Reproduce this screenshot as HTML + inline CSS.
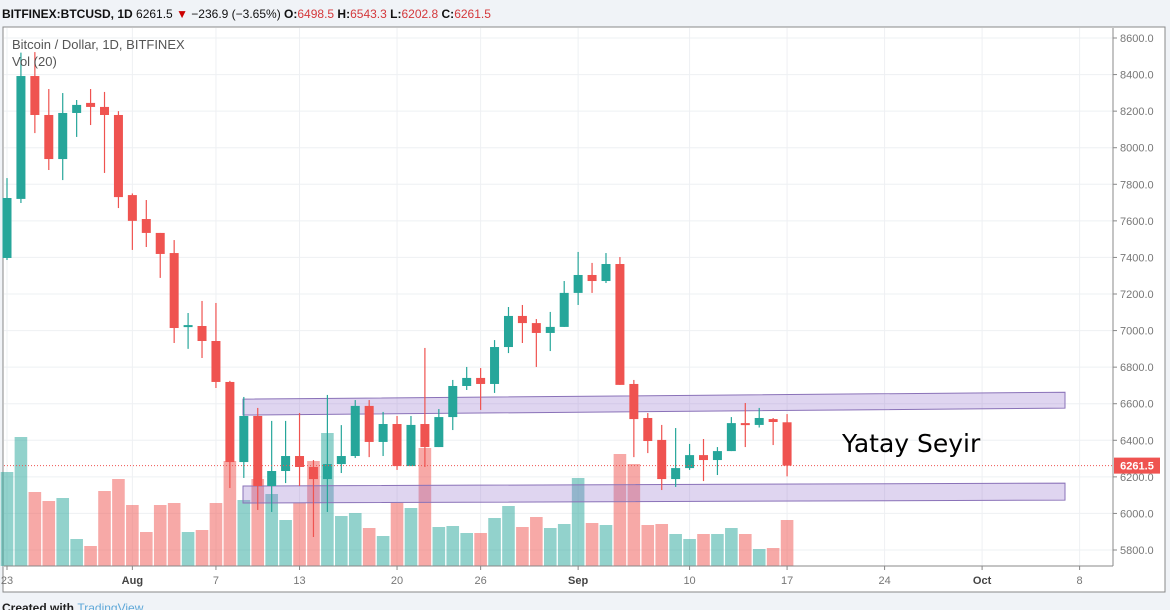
<!DOCTYPE html>
<html><head><meta charset="utf-8"><style>
body{margin:0;width:1170px;height:610px;overflow:hidden;background:#f0f3f7;font-family:"Liberation Sans",sans-serif;}
svg{position:absolute;left:0;top:0}
</style></head><body>
<svg id="c" width="1170" height="610">
<text x="80" y="-2" font-size="12" fill="#333">Bitcoin / Dollar, 1D, BITFINEX</text>
<text x="2" y="18" font-size="12" font-weight="bold" fill="#111">BITFINEX:BTCUSD, 1D <tspan font-weight="normal">6261.5 </tspan><tspan fill="#c00">▼</tspan><tspan font-weight="normal"> −236.9 (−3.65%) </tspan>O:<tspan fill="#d4383b" font-weight="normal">6498.5 </tspan>H:<tspan fill="#d4383b" font-weight="normal">6543.3 </tspan>L:<tspan fill="#d4383b" font-weight="normal">6202.8 </tspan>C:<tspan fill="#d4383b" font-weight="normal">6261.5</tspan></text>
<rect x="3" y="27" width="1162" height="565" fill="#fff" stroke="#888" stroke-width="1"/>
<g id="grid"></g>
<g id="vol"></g>
<g id="bands"></g>
<g id="candles"></g>
<g id="axes"></g>
<text x="12" y="49" font-size="13" fill="#555">Bitcoin / Dollar, 1D, BITFINEX</text>
<text x="12" y="66" font-size="13" fill="#555">Vol (20)</text>
<text x="842" y="452" font-size="25" fill="#000" font-family="DejaVu Sans, sans-serif">Yatay Seyir</text>
<text x="2" y="612" font-size="12" font-weight="bold" fill="#222">Created with <tspan fill="#5fa8d8" font-weight="normal">  TradingView</tspan></text>
</svg>
<script>
const opens=[7397,7720,8392,8179,7938,8190,8245,8223,8179,7741,7610,7534,7424,7020,7025,6943,6719,6281,6533,6150,6232,6314,6254,6188,6270,6314,6588,6391,6489,6259,6489,6363,6527,6697,6741,6708,6910,7080,7041,6987,7020,7206,7304,7271,7364,6708,6522,6402,6188,6248,6319,6292,6341,6494,6484,6516,6498.5];
const highs=[7834,8520,8523,8321,8299,8261,8321,8305,8200,7750,7714,7534,7495,7096,7162,7151,6725,6637,6577,6506,6506,6549,6292,6648,6483,6620,6620,6555,6533,6533,6905,6571,6730,6801,6795,6948,7129,7140,7063,7102,7271,7430,7370,7424,7402,6730,6549,6484,6467,6380,6407,6363,6527,6604,6577,6522,6543.3];
const lows=[7386,7698,8080,7878,7823,8059,8124,7862,7670,7441,7457,7288,6932,6900,6850,6686,6139,6194,6019,6008,6166,6150,5871,6008,6221,6303,6308,6314,6238,6259,6254,6363,6456,6675,6566,6659,6877,6932,6801,6888,7020,7140,7206,7260,6703,6308,6330,6128,6145,6238,6177,6210,6341,6363,6470,6374,6202.8];
const closes=[7725,8392,8179,7938,8190,8234,8223,8179,7730,7600,7534,7419,7014,7030,6943,6719,6281,6533,6150,6232,6314,6254,6188,6270,6314,6588,6391,6489,6259,6484,6363,6527,6697,6741,6708,6910,7080,7041,6987,7020,7206,7304,7271,7364,6703,6516,6396,6188,6248,6319,6292,6341,6494,6484,6522,6500,6261.5];
const volumes=[94,129,74,65,68,27,20,75,87,61,34,61,63,34,36,63,105,66,87,72,46,63,105,133,50,53,38,30,63,58,118,39,40,33,33,48,60,39,49,38,42,88,43,41,112,102,41,42,32,27,32,32,38,32,17,18,46];
const priceTicks=[8600,8400,8200,8000,7800,7600,7400,7200,7000,6800,6600,6400,6200,6000,5800];
const dateTickDays=[0,9,15,21,28,34,41,49,56,63,70,77];
const dateTickLabels=["23","Aug","7","13","20","26","Sep","10","17","24","Oct","8"];
const lastPrice=6261.5;
const bandUpper=[6538,6625,6576,6663];
const bandLower=[6057,6150,6073,6166];
const NS="http://www.w3.org/2000/svg";
const X=d=>7+13.93*d;
const Y=p=>38+(8600-p)*0.18286;
const VB=566;
function mk(parent,tag,attrs){const e=document.createElementNS(NS,tag);for(const k in attrs)e.setAttribute(k,attrs[k]);document.getElementById(parent).appendChild(e);return e;}
priceTicks.forEach(p=>{
  const l=mk('grid','line',{x1:4,x2:1113,y1:Y(p),y2:Y(p),stroke:'#eef0f3'});
  
  
  const t=mk('axes','text',{x:1120,y:Y(p)+4,'font-size':11,fill:'#777'});t.textContent=p.toFixed(1);
  
  
  mk('axes','line',{x1:1113,x2:1117,y1:Y(p),y2:Y(p),stroke:'#888'});
});
dateTickDays.forEach((d,i)=>{
  const l=mk('grid','line',{x1:X(d),x2:X(d),y1:28,y2:VB,stroke:'#eef0f3'});
  
  
  mk('axes','line',{x1:X(d),x2:X(d),y1:VB,y2:VB+4,stroke:'#888'});
  const lab=dateTickLabels[i];const bold=isNaN(+lab);
  const t=mk('axes','text',{x:X(d),y:584,'font-size':11,fill:bold?'#444':'#777','text-anchor':'middle','font-weight':bold?'bold':'normal'});t.textContent=lab;
  
  
});
const ax=mk('axes','line',{x1:1113,x2:1113,y1:28,y2:VB,stroke:'#888'});


const bx=mk('axes','line',{x1:4,x2:1113,y1:VB,y2:VB,stroke:'#888'});


volumes.forEach((v,i)=>{
  const up=closes[i]>=opens[i];
  const r=mk('vol','rect',{x:X(i)-6.3,y:VB-v,width:12.6,height:v,fill:up?'rgba(38,166,154,0.5)':'rgba(239,83,80,0.5)'});
  
  
});
[bandUpper,bandLower].forEach((b,k)=>{
  const x1=243,x2=1065;
  const p=mk('bands','polygon',{points:`${x1},${Y(b[1])} ${x2},${Y(b[3])} ${x2},${Y(b[2])} ${x1},${Y(b[0])}`,fill:'rgba(149,117,205,0.3)',stroke:'#8a72b8','stroke-width':1});
  
  
});
opens.forEach((o,i)=>{
  const c=closes[i],up=c>=o,col=up?'#26a69a':'#ef5350';
  const w=mk('candles','line',{x1:X(i),x2:X(i),y1:Y(highs[i]),y2:Y(lows[i]),stroke:col,'stroke-width':1.2});
  
  
  const top=Y(Math.max(o,c)),h=Math.max(2,Y(Math.min(o,c))-top);
  const b=mk('candles','rect',{x:X(i)-4.5,y:top,width:9,height:h,fill:col});
  
  
});
const pl=mk('axes','line',{x1:4,x2:1113,y1:Y(lastPrice),y2:Y(lastPrice),stroke:'#ef5350','stroke-dasharray':'1,2','stroke-width':1});


const pb=mk('axes','rect',{x:1114,y:Y(lastPrice)-8,width:46,height:16,fill:'#ef5350'});


const pt=mk('axes','text',{x:1137,y:Y(lastPrice)+4,'font-size':11,fill:'#fff','text-anchor':'middle','font-weight':'bold'});pt.textContent=lastPrice.toFixed(1);


</script>
</body></html>
